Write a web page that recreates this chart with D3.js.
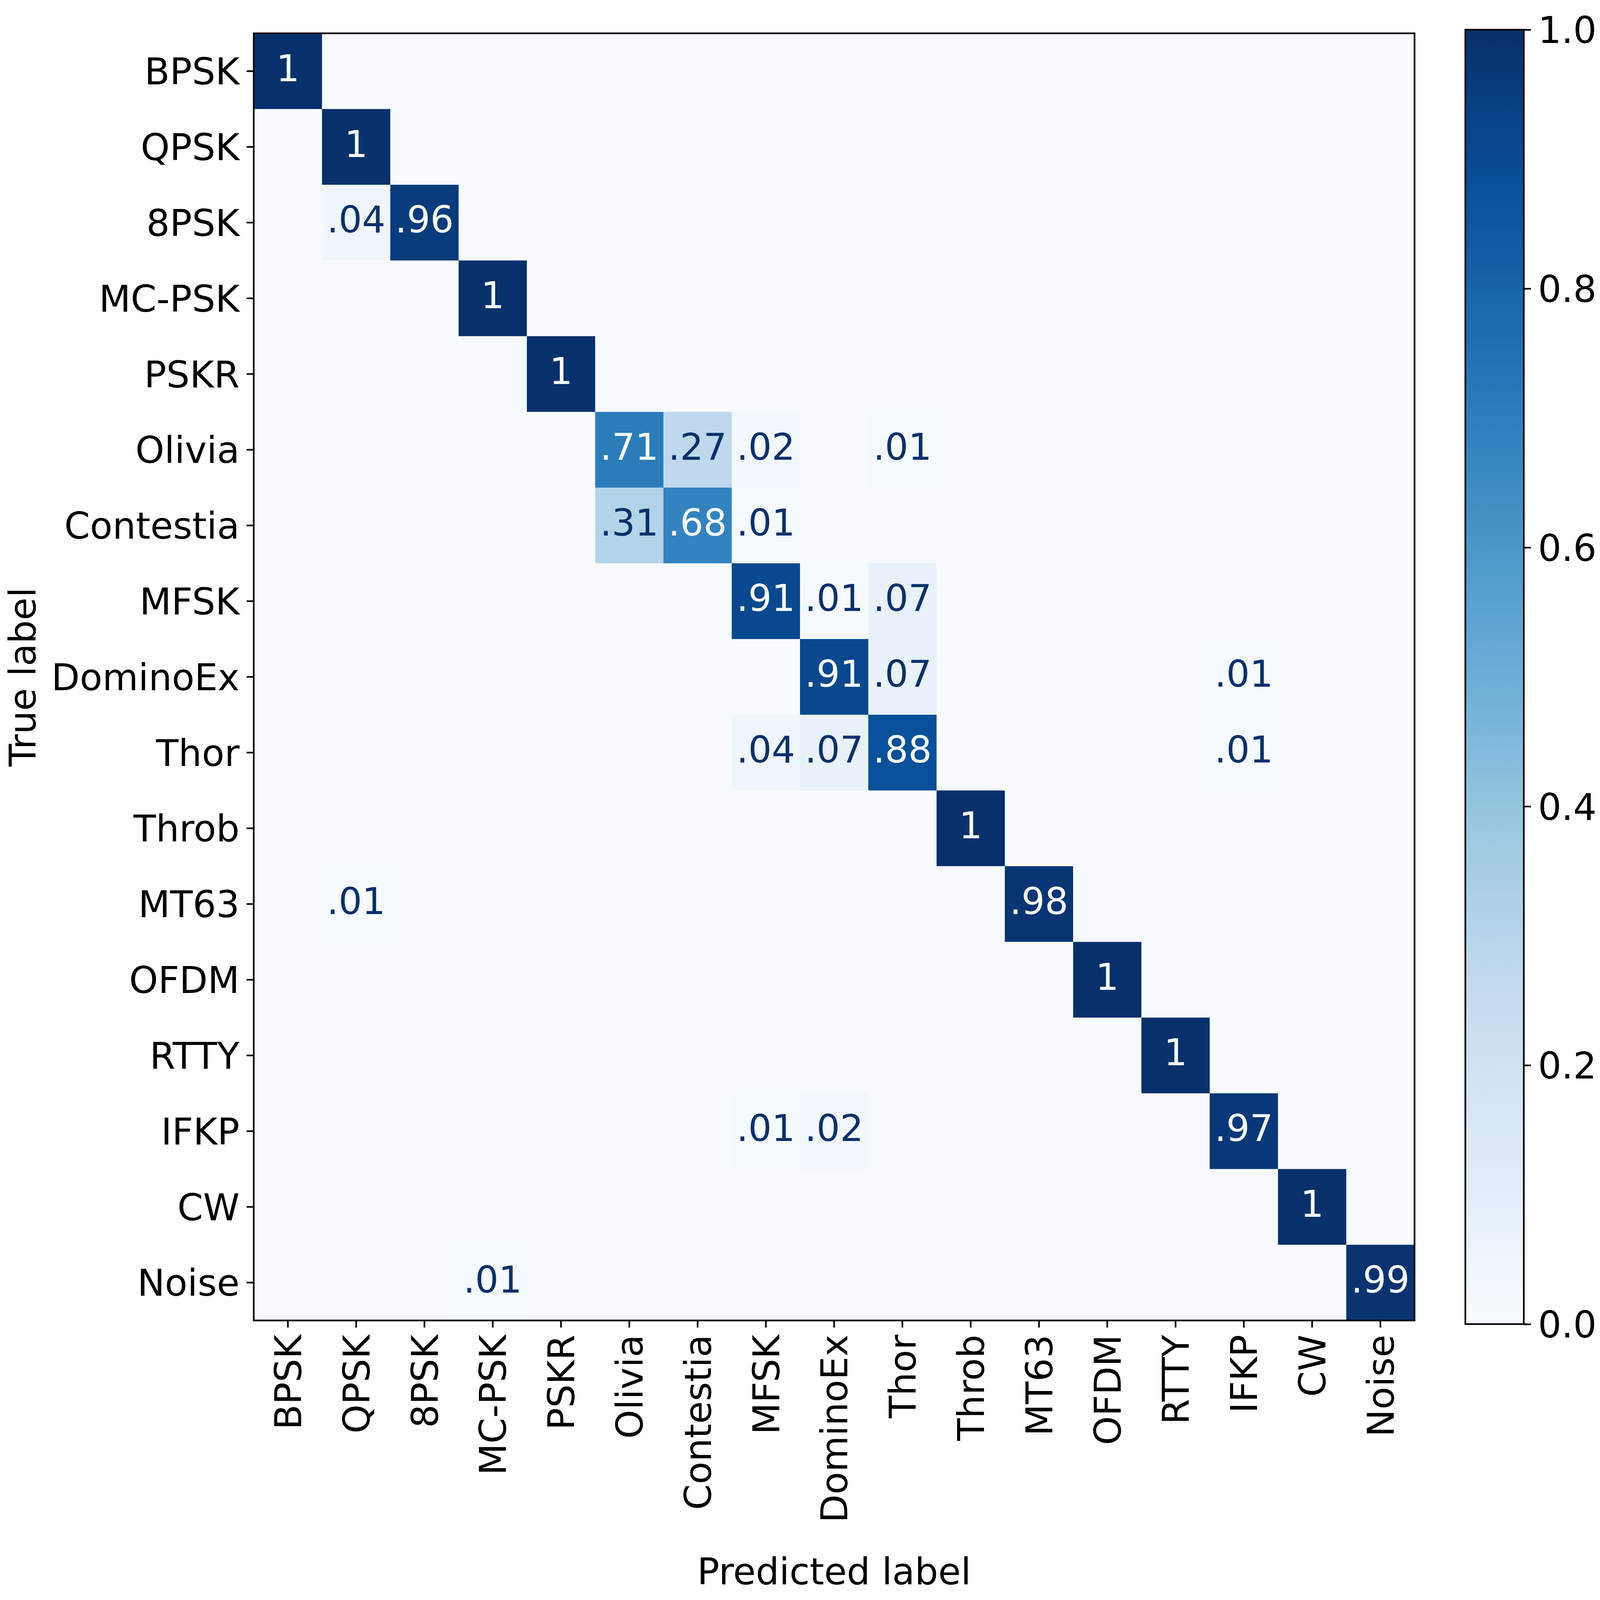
<!DOCTYPE html>
<html>
<head>
<meta charset="utf-8">
<script src="https://cdn.jsdelivr.net/npm/d3@7"></script>
<style>
  html, body { margin: 0; padding: 0; background: #fff; overflow: hidden; }
  svg { display: block; }
  text { font-family: "DejaVu Sans", sans-serif; }
</style>
</head>
<body>
<script>

// class names, same order for rows (true) and columns (predicted)
var labels = ["BPSK", "QPSK", "8PSK", "MC-PSK", "PSKR", "Olivia", "Contestia", "MFSK",
  "DominoEx", "Thor", "Throb", "MT63", "OFDM", "RTTY", "IFKP", "CW", "Noise"];

// normalised confusion matrix, one row per true label
var matrix = [
  [1, 0, 0, 0, 0, 0, 0, 0, 0, 0, 0, 0, 0, 0, 0, 0, 0],
  [0, 1, 0, 0, 0, 0, 0, 0, 0, 0, 0, 0, 0, 0, 0, 0, 0],
  [0, .04, .96, 0, 0, 0, 0, 0, 0, 0, 0, 0, 0, 0, 0, 0, 0],
  [0, 0, 0, 1, 0, 0, 0, 0, 0, 0, 0, 0, 0, 0, 0, 0, 0],
  [0, 0, 0, 0, 1, 0, 0, 0, 0, 0, 0, 0, 0, 0, 0, 0, 0],
  [0, 0, 0, 0, 0, .71, .27, .02, 0, .01, 0, 0, 0, 0, 0, 0, 0],
  [0, 0, 0, 0, 0, .31, .68, .01, 0, 0, 0, 0, 0, 0, 0, 0, 0],
  [0, 0, 0, 0, 0, 0, 0, .91, .01, .07, 0, 0, 0, 0, 0, 0, 0],
  [0, 0, 0, 0, 0, 0, 0, 0, .91, .07, 0, 0, 0, 0, .01, 0, 0],
  [0, 0, 0, 0, 0, 0, 0, .04, .07, .88, 0, 0, 0, 0, .01, 0, 0],
  [0, 0, 0, 0, 0, 0, 0, 0, 0, 0, 1, 0, 0, 0, 0, 0, 0],
  [0, .01, 0, 0, 0, 0, 0, 0, 0, 0, 0, .98, 0, 0, 0, 0, 0],
  [0, 0, 0, 0, 0, 0, 0, 0, 0, 0, 0, 0, 1, 0, 0, 0, 0],
  [0, 0, 0, 0, 0, 0, 0, 0, 0, 0, 0, 0, 0, 1, 0, 0, 0],
  [0, 0, 0, 0, 0, 0, 0, .01, .02, 0, 0, 0, 0, 0, .97, 0, 0],
  [0, 0, 0, 0, 0, 0, 0, 0, 0, 0, 0, 0, 0, 0, 0, 1, 0],
  [0, 0, 0, .01, 0, 0, 0, 0, 0, 0, 0, 0, 0, 0, 0, 0, .99]
];

var cbarTicks = [0, 0.2, 0.4, 0.6, 0.8, 1.0];

// layout is measured on a 5858x5283 canvas, then fitted to the window
var W = 5858, H = 5283;
var vw = window.innerWidth || W, vh = window.innerHeight || H;
var sx = vw / W, sy = vh / H, k = Math.min(sx, sy);

var pL = 929 * sx, pR = 5179 * sx, pT = 110 * sy, pB = 4360 * sy;
var fs = 135 * k, tick = 26 * k, pad = 26 * k, lw = 6 * k;

var svg = d3.select("body")
  .append("svg")
  .attr("width", vw)
  .attr("height", vh)
  .style("background", "#fff");

// matplotlib "Blues" = linear segments through the 9 brewer colours
var blues = d3.scaleLinear()
  .domain(d3.range(9).map(function(i) { return i / 8; }))
  .range(d3.schemeBlues[9])
  .interpolate(d3.interpolateRgb);

var x = d3.scaleBand().domain(labels).range([pL, pR]);
var y = d3.scaleBand().domain(labels).range([pT, pB]);

var cells = [];
matrix.forEach(function(row, i) {
  row.forEach(function(v, j) {
    cells.push({ t: labels[i], p: labels[j], v: v });
  });
});

svg.append("g").selectAll("rect")
  .data(cells)
  .enter().append("rect")
  .attr("x", function(d) { return x(d.p); })
  .attr("y", function(d) { return y(d.t); })
  .attr("width", x.bandwidth() + 0.5)
  .attr("height", y.bandwidth() + 0.5)
  .style("fill", function(d) { return blues(d.v); });

var fmt = function(v) { return v === 1 ? "1" : d3.format(".2f")(v).replace(/^0/, ""); };

svg.append("g").selectAll("text")
  .data(cells.filter(function(d) { return d.v > 0; }))
  .enter().append("text")
  .attr("x", function(d) { return x(d.p) + x.bandwidth() / 2; })
  .attr("y", function(d) { return y(d.t) + y.bandwidth() / 2; })
  .attr("dy", "0.27em")
  .attr("text-anchor", "middle")
  .style("font-size", fs + "px")
  .style("fill", function(d) { return d.v < 0.5 ? blues(1) : blues(0); })
  .text(function(d) { return fmt(d.v); });

// frame
svg.append("rect")
  .attr("x", pL).attr("y", pT)
  .attr("width", pR - pL).attr("height", pB - pT)
  .style("fill", "none")
  .style("stroke", "#000")
  .style("stroke-width", lw);

// y axis
var gy = svg.append("g")
  .attr("transform", "translate(" + pL + ",0)")
  .call(d3.axisLeft(y).tickSize(tick).tickSizeOuter(0).tickPadding(pad));
gy.select(".domain").remove();
gy.selectAll("line").style("stroke", "#000").style("stroke-width", lw);
gy.selectAll("text")
  .attr("dy", "0.36em")
  .style("font-size", fs + "px")
  .style("font-family", "DejaVu Sans")
  .style("fill", "#000");

// x axis, labels turned upright
var gx = svg.append("g")
  .attr("transform", "translate(0," + pB + ")")
  .call(d3.axisBottom(x).tickSize(tick).tickSizeOuter(0).tickPadding(pad));
gx.select(".domain").remove();
gx.selectAll("line").style("stroke", "#000").style("stroke-width", lw);
gx.selectAll("text")
  .attr("transform", "rotate(-90)")
  .attr("x", -(tick + pad))
  .attr("y", 0)
  .attr("dy", "0.36em")
  .attr("text-anchor", "end")
  .style("font-size", fs + "px")
  .style("font-family", "DejaVu Sans")
  .style("fill", "#000");

svg.append("text")
  .attr("x", (pL + pR) / 2)
  .attr("y", 5231 * sy)
  .attr("text-anchor", "middle")
  .style("font-size", fs + "px")
  .text("Predicted label");

svg.append("text")
  .attr("transform", "translate(" + 130 * sx + "," + (pT + pB) / 2 + ") rotate(-90)")
  .attr("text-anchor", "middle")
  .style("font-size", fs + "px")
  .text("True label");

// colorbar
var cbL = 5365 * sx, cbR = 5579 * sx, cbT = 98 * sy, cbB = 4372 * sy;
var grad = svg.append("defs").append("linearGradient")
  .attr("id", "cb")
  .attr("x1", 0).attr("y1", 1).attr("x2", 0).attr("y2", 0);
grad.selectAll("stop")
  .data(d3.range(0, 1.0001, 0.125))
  .enter().append("stop")
  .attr("offset", function(d) { return d; })
  .attr("stop-color", function(d) { return blues(d); });

svg.append("rect")
  .attr("x", cbL).attr("y", cbT)
  .attr("width", cbR - cbL).attr("height", cbB - cbT)
  .style("fill", "url(#cb)")
  .style("stroke", "#000")
  .style("stroke-width", lw);

var cy = d3.scaleLinear().domain([0, 1]).range([cbB, cbT]);
var gc = svg.append("g")
  .attr("transform", "translate(" + cbR + ",0)")
  .call(d3.axisRight(cy).tickValues(cbarTicks).tickFormat(d3.format(".1f"))
    .tickSize(tick).tickSizeOuter(0).tickPadding(pad));
gc.select(".domain").remove();
gc.selectAll("line").style("stroke", "#000").style("stroke-width", lw);
gc.selectAll("text")
  .attr("dy", "0.36em")
  .style("font-size", fs + "px")
  .style("font-family", "DejaVu Sans")
  .style("fill", "#000");

</script>
</body>
</html>
